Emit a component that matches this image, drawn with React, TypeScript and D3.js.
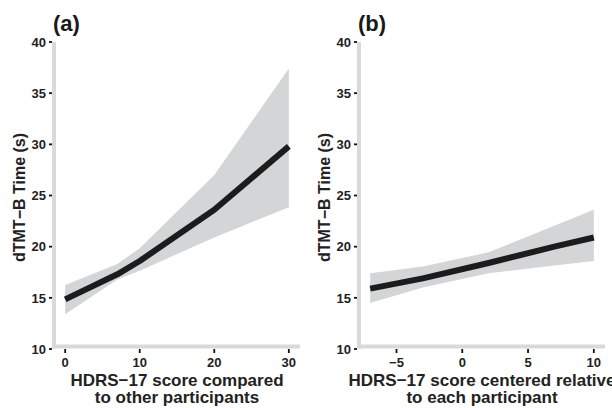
import React from 'react';
import * as d3 from 'd3';

// panel (a): HDRS-17 between-person
const xA = [0, 7, 10, 20, 30];
const fitA = [14.85, 17.3, 18.6, 23.6, 29.8];
const lowA = [13.4, 16.8, 17.65, 20.9, 23.85];
const upA = [16.25, 18.3, 19.85, 27.0, 37.4];

// panel (b): HDRS-17 within-person
const xB = [-7, -3, 2, 7, 10];
const fitB = [15.9, 16.9, 18.4, 20.0, 20.9];
const lowB = [14.5, 16.0, 17.4, 18.15, 18.6];
const upB = [17.4, 18.05, 19.45, 22.05, 23.6];

const yTicks = [10, 15, 20, 25, 30, 35, 40];
const xTicksA = [0, 10, 20, 30];
const xTicksB = [-5, 0, 5, 10];

const font = '"Liberation Sans", Arial, sans-serif';
const textCol = '#222';

type PanelProps = {
  left: number;
  tag: string;
  xs: number[];
  fit: number[];
  low: number[];
  up: number[];
  ticks: number[];
  label: string[];
};

const Panel = ({ left, tag, xs, fit, low, up, ticks, label }: PanelProps) => {
  const width = 246;
  const top = 42;
  const bottom = 349;
  const [x0, x1] = d3.extent(xs) as [number, number];
  const pad = (x1 - x0) * 0.05;
  const x = d3.scaleLinear().domain([x0 - pad, x1 + pad]).range([left, left + width]);
  const y = d3.scaleLinear().domain([10, 40]).range([bottom, top]);

  const pts = xs.map((v, i) => ({ x: v, fit: fit[i], low: low[i], up: up[i] }));
  const area = d3.area<typeof pts[0]>()
    .x(d => x(d.x))
    .y0(d => y(d.low))
    .y1(d => y(d.up));
  const line = d3.line<typeof pts[0]>()
    .x(d => x(d.x))
    .y(d => y(d.fit));

  const mid = left + width / 2;
  const fmt = (v: number) => (v < 0 ? '\u2212' + Math.abs(v) : String(v));

  return (
    <g fontFamily={font} fontWeight="bold">
      <path d={area(pts) ?? ''} fill="#d4d5d7" />
      <path d={line(pts) ?? ''} fill="none" stroke="#1c1c1c" strokeWidth={6} strokeLinejoin="round" />

      {/* axis lines */}
      <line x1={left} x2={left} y1={top} y2={bottom - 0.5} stroke="#d9d9d9" strokeWidth={4} />
      <line x1={left - 2} x2={left + width} y1={bottom - 2.5} y2={bottom - 2.5} stroke="#d9d9d9" strokeWidth={4} />

      {yTicks.map(t => (
        <g key={t}>
          <line x1={left - 5} x2={left - 2} y1={y(t)} y2={y(t)} stroke="#111" strokeWidth={1.8} />
          <text x={left - 8} y={y(t)} dy="0.36em" textAnchor="end" fontSize={13} fill={textCol}>{t}</text>
        </g>
      ))}
      {ticks.map(t => (
        <g key={t}>
          <line x1={x(t)} x2={x(t)} y1={bottom} y2={bottom + 4} stroke="#111" strokeWidth={1.8} />
          <text x={x(t)} y={bottom + 17.5} textAnchor="middle" fontSize={13} fill={textCol}>{fmt(t)}</text>
        </g>
      ))}

      <text x={left - 1} y={31} fontSize={22} fill="#1a1a1a">{tag}</text>
      <text transform={`translate(${left - 29},${(top + bottom) / 2 + 2}) rotate(-90)`} textAnchor="middle" fontSize={16} fill={textCol}>
        dTMT−B Time (s)
      </text>
      {label.map((l, i) => (
        <text key={i} x={mid} y={386 + i * 16.5} textAnchor="middle" fontSize={17} fill={textCol}>{l}</text>
      ))}
    </g>
  );
};

const App = () => (
  <svg width={612} height={408} style={{ position: 'absolute', left: 0, top: 0, background: '#fff' }}>
    <rect width={612} height={408} fill="#fff" />
    <Panel left={54} tag="(a)" xs={xA} fit={fitA} low={lowA} up={upA} ticks={xTicksA}
      label={['HDRS−17 score compared', 'to other participants']} />
    <Panel left={359} tag="(b)" xs={xB} fit={fitB} low={lowB} up={upB} ticks={xTicksB}
      label={['HDRS−17 score centered relative', 'to each participant']} />
  </svg>
);

export default App;
